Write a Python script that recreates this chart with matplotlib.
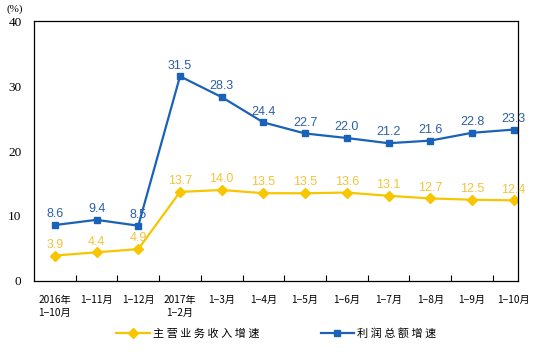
import matplotlib.pyplot as plt

months = ['2016年\n1−10月', '1−11月', '1−12月', '2017年\n1−2月', '1−3月', '1−4月',
          '1−5月', '1−6月', '1−7月', '1−8月', '1−9月', '1−10月']
revenue = [3.9, 4.4, 4.9, 13.7, 14.0, 13.5, 13.5, 13.6, 13.1, 12.7, 12.5, 12.4]
profit = [8.6, 9.4, 8.5, 31.5, 28.3, 24.4, 22.7, 22.0, 21.2, 21.6, 22.8, 23.3]

cjk = ['Noto Sans CJK SC', 'DejaVu Sans']
yellow = '#f7c600'
blue = '#1a62b8'

fig = plt.figure(figsize=(5.4, 3.52), dpi=100)
ax = fig.add_axes([0.063, 0.202, 0.896, 0.738])

x = list(range(len(months)))
l1, = ax.plot(x, revenue, color=yellow, lw=1.6, marker='D', ms=5, label='主 营 业 务 收 入 增 速')
l2, = ax.plot(x, profit, color=blue, lw=1.6, marker='s', ms=4, label='利 润 总 额 增 速')

# data labels
for i, v in enumerate(revenue):
    ax.text(i, v + 1.2, '%.1f' % v, color='#f2c43a', fontsize=9, ha='center',
            family='Liberation Sans')
for i, v in enumerate(profit):
    ax.text(i, v + 1.2, '%.1f' % v, color='#2a5fa8', fontsize=9, ha='center',
            family='Liberation Sans')

ax.set_xlim(-0.5, 11.1)
ax.set_ylim(0, 40)
ax.set_yticks([0, 10, 20, 30, 40])
ax.set_yticklabels(['0', '10', '20', '30', '40'], family='Liberation Serif', fontsize=9.5)
ax.tick_params(axis='y', length=0, pad=9)

# ticks between categories, labels under the points
ax.set_xticks([i + 0.5 for i in range(11)])
ax.set_xticklabels([])
ax.tick_params(axis='x', direction='in', length=4, width=0.8)
for i, m in enumerate(months):
    ax.text(i, -2.2, m, ha='center', va='top', fontsize=7.3, family=cjk,
            linespacing=1.4)

for s in ax.spines.values():
    s.set_linewidth(0.9)
    s.set_color('black')

fig.text(0.012, 0.975, '(%)', fontsize=8, family='Liberation Serif', va='center')

leg = fig.legend(handles=[l1, l2], loc='center', bbox_to_anchor=(0.512, 0.052), ncol=2,
                 frameon=False, prop={'family': cjk, 'size': 8}, handlelength=3,
                 columnspacing=5.5, handletextpad=0.3)

plt.savefig('out.png')
